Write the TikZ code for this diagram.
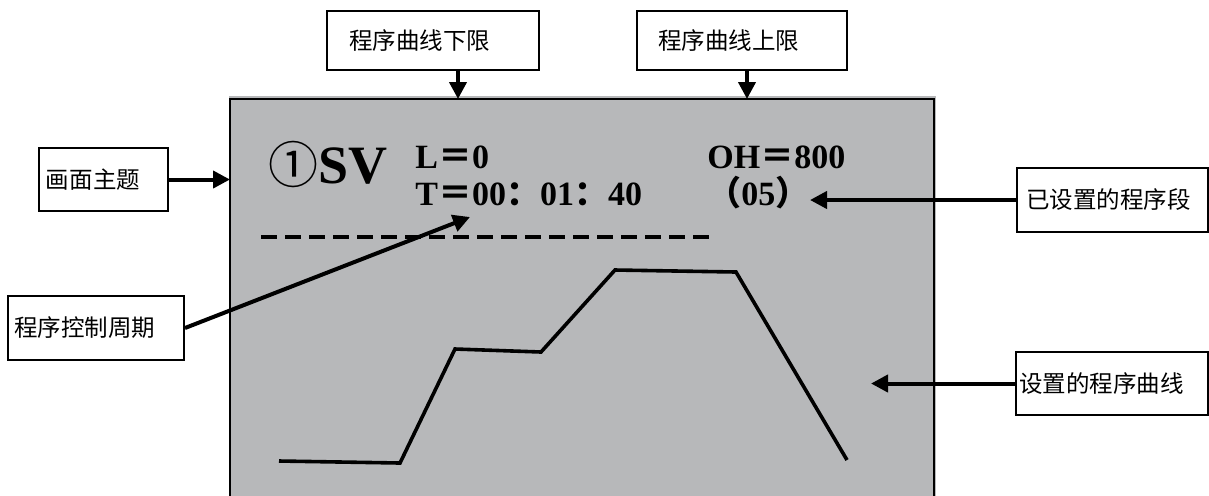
\documentclass[tikz,border=0pt]{standalone}
\usepackage{fontspec}
\setmainfont{Liberation Serif}
\newfontfamily\cjk{Noto Sans CJK SC}
\usetikzlibrary{arrows.meta}
\definecolor{panelgray}{HTML}{B7B8BA}
\newcommand\fullw[1]{{\cjk #1}}
\tikzset{
  tagbox/.style     = {draw, line width=1pt, anchor=north west, align=left,
                       inner ysep=0pt, font=\cjk\fontsize{11.75}{14}\selectfont},
  callout/.style    = {line width=2pt, -{Triangle[length=8.5pt, width=8.5pt]}},
  panelrim/.style   = {draw, line width=1pt},
  screentext/.style = {anchor=base west, inner sep=0pt, text height=12pt,
                       text depth=1pt, font=\bfseries\fontsize{17}{20}\selectfont},
  screenbig/.style  = {screentext, text height=19pt,
                       font=\bfseries\fontsize{27}{30}\selectfont},
  sepline/.style    = {line width=2pt, dash pattern=on 8pt off 4pt},
  progcurve/.style  = {line width=1.8pt},
}

\begin{document}
\begin{tikzpicture}[x=0.5pt, y=-0.5pt]
  \useasboundingbox (0,0) rectangle (1209,495);
  % screen panel
  \fill[panelgray] (229,96) rectangle (936,500);
  \draw[panelrim] (230,500) |- (934,99) -- (934,500);
  % screen contents
  \node[screenbig] (subject) at (268,183)
    {{\cjk\mdseries\fontsize{25}{28}\selectfont ①}SV};
  \node[screentext] (lower) at (415,168) {L\fullw{＝}0};
  \node[screentext] (cycle) at (415,205) {T\fullw{＝}00\fullw{：}01\fullw{：}40};
  \node[screentext] (upper) at (707,168) {OH\fullw{＝}800};
  \node[screentext] (segs) at (707,205) {\fullw{（}05\fullw{）}};
  \coordinate (dashl) at (261,237);
  \coordinate (dashr) at (709,237);
  \draw[sepline] (dashl) -- (dashr);
  \draw[progcurve] (279,461) -- (400,463) -- (455,349) -- (541,352)
    -- (615,270) -- (736,272) -- (847,460);
  % callout boxes
  \node[tagbox, minimum width=106pt, minimum height=29.5pt, inner xsep=11pt,
        text width=84pt] (lowbox) at (326,10) {程序曲线下限};
  \node[tagbox, minimum width=105pt, minimum height=29.5pt, inner xsep=10.5pt,
        text width=84pt] (upbox) at (636,10) {程序曲线上限};
  \node[tagbox, minimum width=64.5pt, minimum height=31.5pt, inner xsep=3.5pt,
        text width=57.5pt] (titlebox) at (38,147) {画面主题};
  \node[tagbox, minimum width=95.5pt, minimum height=32pt, inner xsep=4.5pt,
        text width=86.5pt] (segbox) at (1016,167) {已设置的程序段};
  \node[tagbox, minimum width=88pt, minimum height=32pt, inner xsep=3pt,
        text width=82pt] (cyclebox) at (7,295) {程序控制周期};
  \node[tagbox, minimum width=96pt, minimum height=31.5pt, inner xsep=1.5pt,
        text width=93pt] (curvebox) at (1015,351) {设置的程序曲线};
  % arrow tips
  \coordinate (lowtip) at (458,99);
  \coordinate (uptip) at (747,99);
  \coordinate (titletip) at (230,179);
  \coordinate (segtip) at (810,198);
  \coordinate (cycletip) at (470,217);
  \coordinate (curvetip) at (871,382);
  \draw[callout] (lowbox.south -| lowtip) -- (lowtip);
  \draw[callout] (upbox.south -| uptip) -- (uptip);
  \draw[callout] (titlebox.east) -- (titlebox.east -| titletip);
  \draw[callout] (segbox.west) -- (segbox.west -| segtip);
  \draw[callout] (cyclebox.east) -- (cycletip);
  \draw[callout] (curvebox.west) -- (curvebox.west -| curvetip);
\end{tikzpicture}
\end{document}
